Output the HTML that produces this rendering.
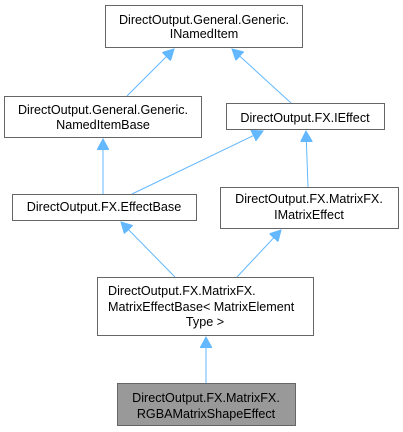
<!DOCTYPE html>
<html><head><meta charset="utf-8"><style>
html,body{margin:0;padding:0;background:#fff;}
svg{display:block;}
text{font-family:"Liberation Sans",Arial,sans-serif;font-size:12.6px;fill:#000;}
</style></head><body>
<svg width="403" height="432" viewBox="0 0 403 432" xmlns="http://www.w3.org/2000/svg">
<defs>
<marker id="a" markerWidth="12" markerHeight="12" refX="11" refY="6" orient="auto" markerUnits="userSpaceOnUse">
<path d="M0,0 L11,6 L0,12 Z" fill="#63b8ff" stroke="#63b8ff"/>
</marker>
</defs>
<g stroke="#63b8ff" stroke-width="1" fill="none" marker-end="url(#a)">
<line x1="127" y1="96" x2="174" y2="49"/>
<line x1="291" y1="103" x2="232" y2="49"/>
<line x1="103" y1="194" x2="103" y2="139"/>
<line x1="132" y1="194" x2="263" y2="131"/>
<line x1="308" y1="187" x2="306" y2="131"/>
<line x1="175" y1="277" x2="121" y2="222"/>
<line x1="237" y1="277" x2="281" y2="230"/>
<line x1="206" y1="383" x2="206" y2="337"/>
</g>
<g stroke="#666" stroke-width="1">
<rect x="105.5" y="5.5" width="197" height="42" fill="#fff"/>
<rect x="4.5" y="96.5" width="197" height="41" fill="#fff"/>
<rect x="226.5" y="103.5" width="158" height="26" fill="#fff"/>
<rect x="12.5" y="194.5" width="184" height="26" fill="#fff"/>
<rect x="220.5" y="187.5" width="178" height="41" fill="#fff"/>
<rect x="97.5" y="277.5" width="216" height="58" fill="#fff"/>
<rect x="117.5" y="383.5" width="178" height="42" fill="#999"/>
</g>
<g text-anchor="middle">
<text x="204" y="24">DirectOutput.General.Generic.</text>
<text x="204" y="38">INamedItem</text>
<text x="103" y="114">DirectOutput.General.Generic.</text>
<text x="103" y="129">NamedItemBase</text>
<text x="305" y="122">DirectOutput.FX.IEffect</text>
<text x="104" y="211">DirectOutput.FX.EffectBase</text>
<text x="309" y="203">DirectOutput.FX.MatrixFX.</text>
<text x="309" y="219">IMatrixEffect</text>
<text x="205" y="326">Type &gt;</text>
<text x="206" y="402">DirectOutput.FX.MatrixFX.</text>
<text x="206" y="418">RGBAMatrixShapeEffect</text>
</g>
<text x="108" y="295">DirectOutput.FX.MatrixFX.</text>
<text x="108" y="311">MatrixEffectBase&lt; MatrixElement</text>
</svg>
</body></html>
